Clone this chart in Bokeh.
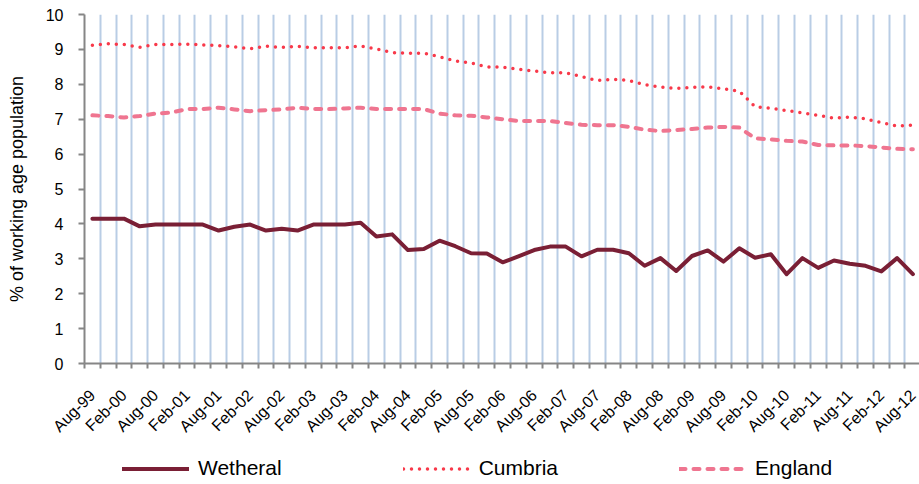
from math import pi
from bokeh.plotting import figure
from bokeh.layouts import column
from bokeh.models import FixedTicker, Range1d, Legend, LegendItem
from bokeh.embed import file_html
from bokeh.resources import INLINE

quarters = ["Aug-99", "Nov-99",
            "Feb-00", "May-00", "Aug-00", "Nov-00",
            "Feb-01", "May-01", "Aug-01", "Nov-01",
            "Feb-02", "May-02", "Aug-02", "Nov-02",
            "Feb-03", "May-03", "Aug-03", "Nov-03",
            "Feb-04", "May-04", "Aug-04", "Nov-04",
            "Feb-05", "May-05", "Aug-05", "Nov-05",
            "Feb-06", "May-06", "Aug-06", "Nov-06",
            "Feb-07", "May-07", "Aug-07", "Nov-07",
            "Feb-08", "May-08", "Aug-08", "Nov-08",
            "Feb-09", "May-09", "Aug-09", "Nov-09",
            "Feb-10", "May-10", "Aug-10", "Nov-10",
            "Feb-11", "May-11", "Aug-11", "Nov-11",
            "Feb-12", "May-12", "Aug-12"]

wetheral = [4.15, 4.15, 4.15, 3.93, 3.98, 3.98, 3.98, 3.98, 3.81, 3.92,
            3.98, 3.81, 3.86, 3.81, 3.98, 3.98, 3.98, 4.03, 3.64, 3.70,
            3.25, 3.28, 3.52, 3.36, 3.16, 3.15, 2.90, 3.07, 3.25, 3.35,
            3.35, 3.07, 3.26, 3.26, 3.16, 2.80, 3.02, 2.65, 3.08, 3.24,
            2.92, 3.30, 3.03, 3.13, 2.56, 3.02, 2.74, 2.95, 2.86, 2.80,
            2.64, 3.02, 2.56]

cumbria = [9.12, 9.16, 9.14, 9.06, 9.14, 9.14, 9.15, 9.13, 9.11, 9.07,
           9.02, 9.09, 9.06, 9.09, 9.05, 9.05, 9.05, 9.10, 9.01, 8.91,
           8.89, 8.89, 8.79, 8.67, 8.61, 8.50, 8.49, 8.43, 8.38, 8.33,
           8.33, 8.22, 8.11, 8.14, 8.11, 7.99, 7.92, 7.88, 7.91, 7.93,
           7.87, 7.80, 7.36, 7.31, 7.25, 7.18, 7.11, 7.03, 7.06, 7.01,
           6.90, 6.80, 6.83]

england = [7.11, 7.09, 7.05, 7.09, 7.16, 7.19, 7.29, 7.29, 7.33, 7.28,
           7.23, 7.26, 7.28, 7.33, 7.29, 7.29, 7.31, 7.33, 7.29, 7.29,
           7.29, 7.29, 7.16, 7.11, 7.10, 7.05, 7.00, 6.95, 6.95, 6.95,
           6.89, 6.84, 6.83, 6.83, 6.78, 6.70, 6.66, 6.69, 6.72, 6.76,
           6.78, 6.76, 6.45, 6.42, 6.38, 6.36, 6.26, 6.25, 6.25, 6.23,
           6.19, 6.15, 6.14]

series_names = ["Wetheral", "Cumbria", "England"]
y_ticks = list(range(0, 11))

FONT = "Liberation Sans"
COL_W, COL_C, COL_E = "#7a1f35", "#f8394a", "#ef7590"
x = list(range(len(quarters)))
label_idx = x[::2]
series = [wetheral, cumbria, england]

p = figure(width=919, height=450, output_backend="svg", toolbar_location=None,
           x_range=Range1d(-0.5, 52.42), y_range=Range1d(0, 10),
           min_border_left=84, min_border_right=0, min_border_top=14,
           min_border_bottom=87)
p.outline_line_color = None
p.background_fill_color = "white"
p.border_fill_color = "white"

# grid at category boundaries
p.xgrid.ticker = FixedTicker(ticks=[i + 0.5 for i in range(len(quarters) - 1)])
p.xgrid.grid_line_color = "#b9cde5"
p.xgrid.grid_line_width = 2
p.ygrid.grid_line_color = None

# x axis
xa = p.xaxis[0]
xa.ticker = FixedTicker(ticks=label_idx,
                        minor_ticks=[i - 0.5 for i in range(len(quarters) + 1)])
xa.major_label_overrides = {i: quarters[i] for i in label_idx}
xa.major_tick_line_color = None
xa.major_tick_out = 5
xa.major_tick_in = 0
xa.minor_tick_line_color = "#868686"
xa.minor_tick_line_width = 2
xa.minor_tick_out = 5
xa.minor_tick_in = 0
xa.axis_line_color = "#868686"
xa.axis_line_width = 2
xa.major_label_orientation = pi / 4
xa.major_label_text_font = FONT
xa.major_label_text_font_size = "16px"
xa.major_label_text_color = "#000000"
xa.major_label_standoff = 24

# y axis
ya = p.yaxis[0]
ya.ticker = FixedTicker(ticks=y_ticks)
ya.major_tick_line_color = "#868686"
ya.major_tick_line_width = 2
ya.major_tick_out = 6
ya.major_tick_in = 0
ya.minor_tick_line_color = None
ya.axis_line_color = "#868686"
ya.axis_line_width = 2
ya.major_label_text_font = FONT
ya.major_label_text_font_size = "16px"
ya.major_label_text_color = "#000000"
ya.major_label_standoff = 15
ya.axis_label = "% of working age population"
ya.axis_label_text_font = FONT
ya.axis_label_text_font_size = "18px"
ya.axis_label_text_font_style = "normal"
ya.axis_label_text_color = "#000000"
ya.axis_label_standoff = 16

line_styles = [dict(line_color=COL_W, line_width=4, line_join="round", line_cap="round"),
               dict(line_color=COL_C, line_width=3.5, line_dash="0 8", line_cap="round"),
               dict(line_color=COL_E, line_width=4, line_dash="6 8", line_cap="round")]

for vals, st in zip(series, line_styles):
    p.line(x, vals, **st)

# legend strip below the chart (its frame is aligned with the chart's frame)
lg = figure(width=919, height=34, output_backend="svg", toolbar_location=None,
            x_range=Range1d(-0.5, 52.42), y_range=Range1d(0, 1),
            x_axis_location=None, y_axis_location=None,
            min_border_left=84, min_border_right=0, min_border_top=0,
            min_border_bottom=0)
lg.outline_line_color = None
lg.xgrid.grid_line_color = None
lg.ygrid.grid_line_color = None
lg.background_fill_color = "white"
lg.border_fill_color = "white"

items = []
for name, vals, st in zip(series_names, series, line_styles):
    # same series, out of this strip's y-range: only the legend key shows
    r = lg.line(x, vals, **st)
    items.append(LegendItem(label=name, renderers=[r]))

legend = Legend(items=items, orientation="horizontal", location=(38, 4),
                glyph_width=67, glyph_height=21, label_height=21,
                label_standoff=9, spacing=121, padding=0, margin=0,
                border_line_color=None, background_fill_alpha=0)
legend.label_text_font = FONT
legend.label_text_font_size = "21px"
legend.label_text_color = "#000000"
lg.add_layout(legend, "center")

layout = column(p, lg, spacing=0)
open("out.html", "w").write(file_html(layout, INLINE))
